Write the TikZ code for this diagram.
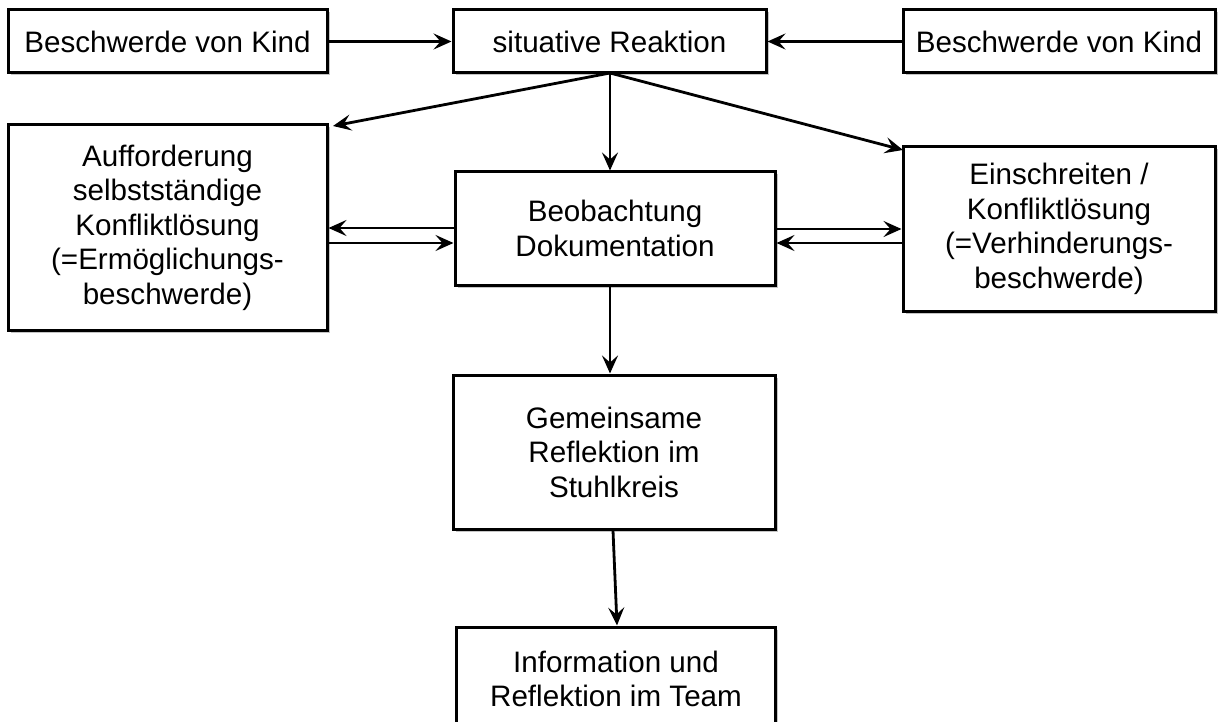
\documentclass[tikz,border=0pt]{standalone}
\usepackage{fontspec}
\setmainfont{Liberation Sans}
\usetikzlibrary{arrows.meta,shadows}
\begin{document}
\begin{tikzpicture}[x=1pt,y=-1pt,
  box/.style={draw=black, line width=3pt, fill=white, align=center,
    inner sep=0pt, font=\fontsize{29.6}{34.5}\selectfont,
    drop shadow={shadow xshift=2.5pt, shadow yshift=-2.5pt, fill=black!45, opacity=0.5}},
  arr/.style={line width=2.8pt, -{Stealth[length=18pt,width=16pt,inset=7pt]}}]
\useasboundingbox (0,0) rectangle (1223,722);
\clip (0,0) rectangle (1223,722);
\node[box, minimum width=319pt, minimum height=63pt] (k1) at (167.5,41.5) {Beschwerde von Kind};
\node[box, minimum width=313pt, minimum height=63pt] (sr) at (609.5,41.5) {situative Reaktion};
\node[box, minimum width=312pt, minimum height=63pt] (k2) at (1059,41.5) {Beschwerde von Kind};
\node[box, minimum width=319pt, minimum height=205pt] (auf) at (167.5,227.5) {Aufforderung\\selbstständige\\Konfliktlösung\\(=Ermöglichungs-\\beschwerde)};
\node[box, minimum width=320pt, minimum height=113pt] (beo) at (615,228.5) {Beobachtung\\Dokumentation};
\node[box, minimum width=312pt, minimum height=164pt] (ein) at (1059,229) {Einschreiten /\\Konfliktlösung\\(=Verhinderungs-\\beschwerde)};
\node[box, minimum width=322pt, minimum height=154pt] (gem) at (614,452) {Gemeinsame\\Reflektion im\\Stuhlkreis};
\node[box, minimum width=319pt, minimum height=104pt] (inf) at (616,679) {Information und\\Reflektion im Team};
\coordinate (srb) at (610,73);
\draw[arr] (k1.east) -- (sr.west);
\draw[arr] (k2.west) -- (sr.east);
\draw[arr] (srb) -- (333,126);
\draw[arr] (srb) -- (beo.north -| srb);
\draw[arr] (srb) -- (903,150);
\draw[arr] (beo.west |- 0,228) -- (auf.east |- 0,228);
\draw[arr] (auf.east |- 0,243) -- (beo.west |- 0,243);
\draw[arr] (beo.east |- 0,229) -- (ein.west |- 0,229);
\draw[arr] (ein.west |- 0,243) -- (beo.east |- 0,243);
\draw[arr] (beo.south -| 610,0) -- (gem.north -| 610,0);
\draw[arr] (gem.south -| 613,0) -- (inf.north -| 617,0);
\end{tikzpicture}
\end{document}
